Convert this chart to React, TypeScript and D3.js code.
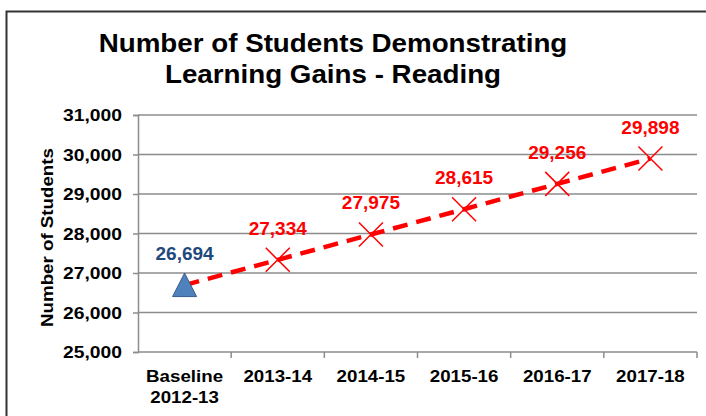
import React, { useEffect, useRef } from "react";
import * as d3 from "d3";

const categories = ["Baseline\n2012-13", "2013-14", "2014-15", "2015-16", "2016-17", "2017-18"];
const values = [26694, 27334, 27975, 28615, 29256, 29898];
const yTicks = [25000, 26000, 27000, 28000, 29000, 30000, 31000];
const titleLines = ["Number of Students Demonstrating", "Learning Gains - Reading"];

const App = () => {
  const svgRef = useRef<SVGSVGElement>(null);

  useEffect(() => {
    const svg = d3.select(svgRef.current);
    svg.selectAll("*").remove();

    const width = 706;
    const height = 416;
    const margin = { top: 115, right: 9, bottom: 64, left: 138 };
    const font = "Arial, 'Liberation Sans', sans-serif";
    const stretch = 1.17; // the source picture is a bit wide

    svg.append("rect").attr("width", width).attr("height", height).attr("fill", "white");

    // chart frame, runs off the right and bottom edges
    svg
      .append("rect")
      .attr("x", 6.5)
      .attr("y", 11.5)
      .attr("width", width + 20)
      .attr("height", height + 20)
      .attr("fill", "none")
      .attr("stroke", "#333")
      .attr("stroke-width", 2);

    const x = d3
      .scaleBand()
      .domain(categories)
      .range([margin.left, width - margin.right])
      .paddingInner(0)
      .paddingOuter(0);

    const y = d3
      .scaleLinear()
      .domain([25000, 31000])
      .range([height - margin.bottom, margin.top]);

    // gridlines
    svg
      .append("g")
      .selectAll("line")
      .data(yTicks.slice(1))
      .join("line")
      .attr("x1", margin.left)
      .attr("x2", width - margin.right)
      .attr("y1", (d) => y(d))
      .attr("y2", (d) => y(d))
      .attr("stroke", "#8c8c8c")
      .attr("stroke-width", 1.5);

    // y axis (labels drawn by hand so they can be widened)
    const yAxis = svg
      .append("g")
      .attr("transform", `translate(${margin.left},0)`)
      .call(d3.axisLeft(y).tickValues(yTicks).tickSize(5).tickFormat(() => ""));
    yAxis.selectAll("line, path").attr("stroke", "#8c8c8c").attr("stroke-width", 1.5);

    svg
      .append("g")
      .selectAll("text")
      .data(yTicks)
      .join("text")
      .attr("transform", (d) => `translate(122,${y(d) + 6}) scale(${stretch},1)`)
      .attr("text-anchor", "end")
      .style("font-family", font)
      .style("font-size", "16.5px")
      .style("font-weight", "bold")
      .text((d) => d3.format(",")(d));

    // x axis
    const xAxis = svg
      .append("g")
      .attr("transform", `translate(0,${height - margin.bottom})`);
    xAxis
      .append("line")
      .attr("x1", margin.left)
      .attr("x2", width - margin.right)
      .attr("stroke", "#8c8c8c")
      .attr("stroke-width", 1.5);
    xAxis
      .selectAll(".tick")
      .data(categories)
      .join("line")
      .attr("x1", (d) => (x(d) as number) + x.bandwidth())
      .attr("x2", (d) => (x(d) as number) + x.bandwidth())
      .attr("y1", 0)
      .attr("y2", 6)
      .attr("stroke", "#8c8c8c")
      .attr("stroke-width", 1.5);
    xAxis
      .selectAll("text")
      .data(categories)
      .join("text")
      .attr(
        "transform",
        (d) => `translate(${(x(d) as number) + x.bandwidth() / 2},30) scale(${stretch},1)`
      )
      .attr("text-anchor", "middle")
      .style("font-family", font)
      .style("font-size", "16px")
      .style("font-weight", "bold")
      .each(function (d) {
        const t = d3.select(this);
        d.split("\n").forEach((line, i) => {
          t.append("tspan")
            .attr("x", 0)
            .attr("y", i * 21)
            .text(line);
        });
      });

    // title
    svg
      .append("g")
      .attr("transform", `translate(333,0) scale(1.11,1)`)
      .append("text")
      .attr("text-anchor", "middle")
      .style("font-family", font)
      .style("font-size", "25px")
      .style("font-weight", "bold")
      .selectAll("tspan")
      .data(titleLines)
      .join("tspan")
      .attr("x", 0)
      .attr("y", (d, i) => 52 + i * 31)
      .text((d) => d);

    // y axis title
    svg
      .append("text")
      .attr(
        "transform",
        `translate(53,${(y(25000) + y(31000)) / 2 + 4}) rotate(-90) scale(${stretch},1)`
      )
      .attr("text-anchor", "middle")
      .style("font-family", font)
      .style("font-size", "16px")
      .style("font-weight", "bold")
      .text("Number of Students");

    const cx = (i: number) => (x(categories[i]) as number) + x.bandwidth() / 2;

    // dashed line
    const line = d3
      .line<number>()
      .x((d, i) => cx(i))
      .y((d) => y(d));
    svg
      .append("path")
      .datum(values)
      .attr("d", line)
      .attr("fill", "none")
      .attr("stroke", "#ff0000")
      .attr("stroke-width", 4.5)
      .attr("stroke-dasharray", "15,9");

    // baseline triangle
    svg
      .append("path")
      .attr("d", "M0,-12L12,11.5L-12,11.5Z")
      .attr("transform", `translate(${cx(0)},${y(values[0])})`)
      .attr("fill", "#4f81bd")
      .attr("stroke", "#385d8a")
      .attr("stroke-width", 1);

    // X markers
    svg
      .append("g")
      .selectAll("path")
      .data(values.slice(1))
      .join("path")
      .attr("transform", (d, i) => `translate(${cx(i + 1)},${y(d)})`)
      .attr("d", "M-12,-12L12,12M-12,12L12,-12")
      .attr("stroke", "#ff0000")
      .attr("stroke-width", 1.5)
      .attr("fill", "none");

    // data labels
    svg
      .append("g")
      .selectAll("text")
      .data(values)
      .join("text")
      .attr("x", (d, i) => cx(i))
      .attr("y", (d) => y(d) - 25)
      .attr("text-anchor", "middle")
      .attr("fill", (d, i) => (i === 0 ? "#1f497d" : "#ff0000"))
      .style("font-family", font)
      .style("font-size", "19px")
      .style("font-weight", "bold")
      .text((d) => d3.format(",")(d));
  }, []);

  return (
    <svg
      ref={svgRef}
      width={706}
      height={416}
      style={{ position: "absolute", left: 0, top: 0 }}
    ></svg>
  );
};

export default App;
